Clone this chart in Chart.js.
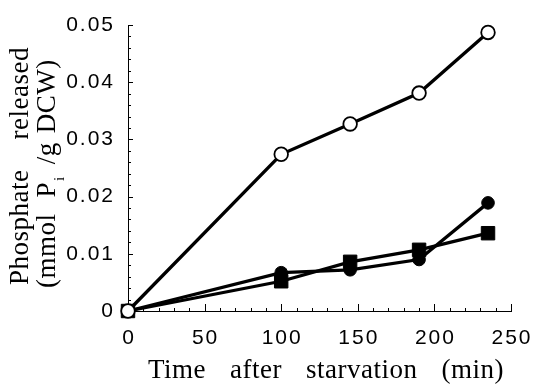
<!DOCTYPE html>
<html>
<head>
<meta charset="utf-8">
<script src="https://cdn.jsdelivr.net/npm/chart.js@4/dist/chart.umd.min.js"></script>
<style>
	html, body { margin: 0; padding: 0; background: #fff; }
	#wrap { width: 537px; height: 386px; }
</style>
</head>
<body>
<div id="wrap"><canvas id="chart" width="537" height="386"></canvas></div>
<script>
// time after starvation (min)
const times = [0, 100, 145, 190, 235];
// phosphate released (mmol Pi / g DCW)
const openCircle = [0, 0.0274, 0.0327, 0.0381, 0.0487];
const filledCircle = [0, 0.0067, 0.0072, 0.0090, 0.0189];
const filledSquare = [0, 0.0052, 0.0086, 0.0107, 0.0136];

const xTicks = [0, 50, 100, 150, 200, 250];
const xTickLabels = ['0', '50', '100', '150', '200', '250'];
const yTicks = [0, 0.01, 0.02, 0.03, 0.04, 0.05];
const yTickLabels = ['0', '0.01', '0.02', '0.03', '0.04', '0.05'];

const xTitle = ['Time', 'after', 'starvation', '(min)'];

const serif = '"Liberation Serif", "Times New Roman", serif';
const sans = '"Liberation Sans", Arial, sans-serif';

const toPoints = (vals) => vals.map((v, i) => ({ x: times[i], y: v }));

// draws a row of text pieces, rotated when vertical
function drawRun(ctx, x, y, pieces, vertical) {
	ctx.save();
	ctx.translate(x, y);
	if (vertical) ctx.rotate(-Math.PI / 2);
	let u = 0;
	pieces.forEach(p => {
		ctx.font = p.font;
		ctx.fillText(p.t, u, p.dv || 0);
		u += ctx.measureText(p.t).width + (p.gap || 0);
	});
	ctx.restore();
}

const axisDecor = {
	id: 'axisDecor',
	beforeDatasetsDraw(chart) {
		const { ctx, scales: { x, y } } = chart;
		const x0 = x.getPixelForValue(0);
		const y0 = y.getPixelForValue(0);
		ctx.save();
		ctx.strokeStyle = '#000';
		ctx.lineWidth = 1;
		ctx.beginPath();
		// inward ticks on x axis, minor every 10
		for (let v = 0; v <= 250; v += 10) {
			const px = Math.round(x.getPixelForValue(v)) + 0.5;
			const len = v % 50 === 0 ? 7 : 3;
			ctx.moveTo(px, y0);
			ctx.lineTo(px, y0 - len);
		}
		// inward ticks on y axis, minor every 0.002
		for (let i = 0; i <= 25; i++) {
			const py = Math.round(y.getPixelForValue(i * 0.002)) + 0.5;
			const len = i % 5 === 0 ? 5 : 3;
			ctx.moveTo(x0, py);
			ctx.lineTo(x0 + len, py);
		}
		ctx.stroke();

		// tick labels
		ctx.fillStyle = '#000';
		ctx.font = '21px ' + sans;
		ctx.letterSpacing = '2px';
		ctx.textAlign = 'right';
		ctx.textBaseline = 'middle';
		yTicks.forEach((v, i) => {
			ctx.fillText(yTickLabels[i], 115, y.getPixelForValue(v));
		});
		ctx.textAlign = 'center';
		ctx.textBaseline = 'alphabetic';
		xTicks.forEach((v, i) => {
			ctx.fillText(xTickLabels[i], x.getPixelForValue(v) + 1, 344);
		});

		// axis titles
		ctx.letterSpacing = '0.5px';
		ctx.textAlign = 'left';
		const big = '27px ' + serif;
		drawRun(ctx, 148, 378, xTitle.map(t => ({ t, font: big, gap: 24 })), false);
		drawRun(ctx, 28, 285, [
			{ t: 'Phosphate', font: big, gap: 30 },
			{ t: 'released', font: big }
		], true);
		drawRun(ctx, 55, 288, [
			{ t: '(mmol', font: big, gap: 16 },
			{ t: 'P', font: big, gap: 1 },
			{ t: 'i', font: '15px ' + serif, dv: 9, gap: 12 },
			{ t: '/g', font: big, gap: 9 },
			{ t: 'DCW)', font: big }
		], true);
		ctx.letterSpacing = '0px';
		ctx.restore();
	}
};

const line = { borderColor: '#000', borderWidth: 3.3, tension: 0, clip: false, pointBorderColor: '#000' };

new Chart(document.getElementById('chart'), {
	type: 'line',
	data: {
		datasets: [
			Object.assign({}, line, {
				label: 'open',
				data: toPoints(openCircle),
				pointStyle: 'circle',
				pointRadius: 6.8,
				pointBackgroundColor: '#fff',
				pointBorderWidth: 1.8
			}),
			Object.assign({}, line, {
				label: 'filled circle',
				data: toPoints(filledCircle),
				pointStyle: 'circle',
				pointRadius: 6.3,
				pointBackgroundColor: '#000',
				pointBorderWidth: 1
			}),
			Object.assign({}, line, {
				label: 'filled square',
				data: toPoints(filledSquare),
				pointStyle: 'rect',
				pointRadius: 9.5,
				pointBackgroundColor: '#000',
				pointBorderWidth: 1
			})
		]
	},
	options: {
		responsive: false,
		animation: false,
		events: [],
		layout: { padding: { left: 128, right: 26, top: 25, bottom: 75 } },
		plugins: { legend: { display: false }, tooltip: { enabled: false } },
		scales: {
			x: {
				type: 'linear',
				min: 0,
				max: 250,
				ticks: { display: false },
				grid: { display: false, drawTicks: false },
				border: { display: true, color: '#000', width: 1 }
			},
			y: {
				min: 0,
				max: 0.05,
				ticks: { display: false },
				grid: { display: false, drawTicks: false },
				border: { display: true, color: '#000', width: 1 }
			}
		}
	},
	plugins: [axisDecor]
});
</script>
</body>
</html>
